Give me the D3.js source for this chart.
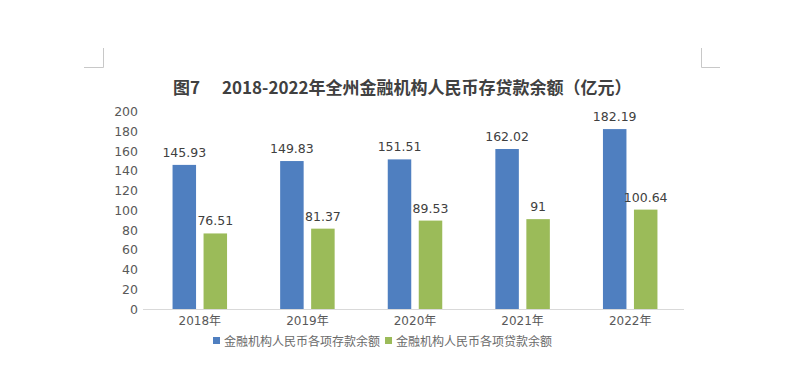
<!DOCTYPE html>
<html><head><meta charset="utf-8">
<script src="https://cdn.jsdelivr.net/npm/d3@7"></script>
<style>body{margin:0;background:#fff}svg{display:block}</style>
</head><body>
<svg id="c" width="800" height="367"></svg>
<script>
const categories = ["2018年","2019年","2020年","2021年","2022年"];
const depositValues = [145.93,149.83,151.51,162.02,182.19];
const loanValues = [76.51,81.37,89.53,91,100.64];
const seriesNames = ["金融机构人民币各项存款余额","金融机构人民币各项贷款余额"];
const yTicks = [0,20,40,60,80,100,120,140,160,180,200];
const titleLead = "图7";
const titleMain = "2018-2022年全州金融机构人民币存贷款余额（亿元）";
const colors = ["#4f7fc0","#9bbb59"];

const svg = d3.select("#c");
const font = "'DejaVu Sans', 'Noto Sans CJK SC', sans-serif";
const cjk = "'Noto Sans CJK SC', sans-serif";

// corner marks
svg.append("path").attr("d","M103.5,48V67.5H84").attr("fill","none").attr("stroke","#c8c8c8").attr("stroke-width",1);
svg.append("path").attr("d","M701.5,48V67.5H720").attr("fill","none").attr("stroke","#c8c8c8").attr("stroke-width",1);

const tg = svg.append("g").attr("font-family",cjk).attr("font-weight","bold").attr("font-size",17).attr("fill","#404040");
tg.append("text").attr("x",173).attr("y",94).text(titleLead);
tg.append("text").attr("x",222).attr("y",94).text(titleMain);

const x = d3.scaleBand().domain(categories).range([146,684]);
const y = d3.scaleLinear().domain([0,200]).range([309,111.5]);

const yAxis = d3.axisLeft(y).tickValues(yTicks).tickSize(0).tickPadding(0);
const ga = svg.append("g").attr("transform","translate(138,0)").call(yAxis);
ga.select(".domain").remove();
ga.selectAll("text").attr("font-family",font).attr("font-size",12.5).attr("fill","#595959");

const xAxis = d3.axisBottom(x).tickSize(0).tickPadding(7);
const gx = svg.append("g").attr("transform","translate(0,309.5)").call(xAxis);
gx.select(".domain").attr("stroke","#d9d9d9").attr("d","M143,0H684");
gx.selectAll("text").attr("font-family",font).attr("font-size",12).attr("fill","#595959");

const bw = 23.5, gap = 7.5;
const series = [depositValues, loanValues];
series.forEach((vals,si)=>{
  const off = si===0 ? -(bw+gap/2) : gap/2;
  const g = svg.append("g");
  g.selectAll("rect").data(vals).join("rect")
    .attr("x",(d,i)=>x(categories[i])+x.bandwidth()/2+off)
    .attr("y",d=>y(d)).attr("width",bw).attr("height",d=>y(0)-y(d))
    .attr("fill",colors[si]);
  g.selectAll("text").data(vals).join("text")
    .attr("x",(d,i)=>x(categories[i])+x.bandwidth()/2+off+bw/2)
    .attr("y",d=>y(d)-8).attr("text-anchor","middle")
    .attr("font-family",font).attr("font-size",12.5).attr("fill","#404040")
    .text(d=>d);
});

const lg = svg.append("g").attr("transform","translate(213,341)");
let lx = 0;
seriesNames.forEach((n,i)=>{
  lg.append("rect").attr("x",lx).attr("y",-4).attr("width",7).attr("height",7).attr("fill",colors[i]);
  const t = lg.append("text").attr("x",lx+11).attr("y",4.5).attr("font-family",cjk).attr("font-size",12)
    .attr("fill","#6a6a6a").text(n);
  lx += 11 + t.node().getComputedTextLength() + 5;
});
</script>
</body></html>
